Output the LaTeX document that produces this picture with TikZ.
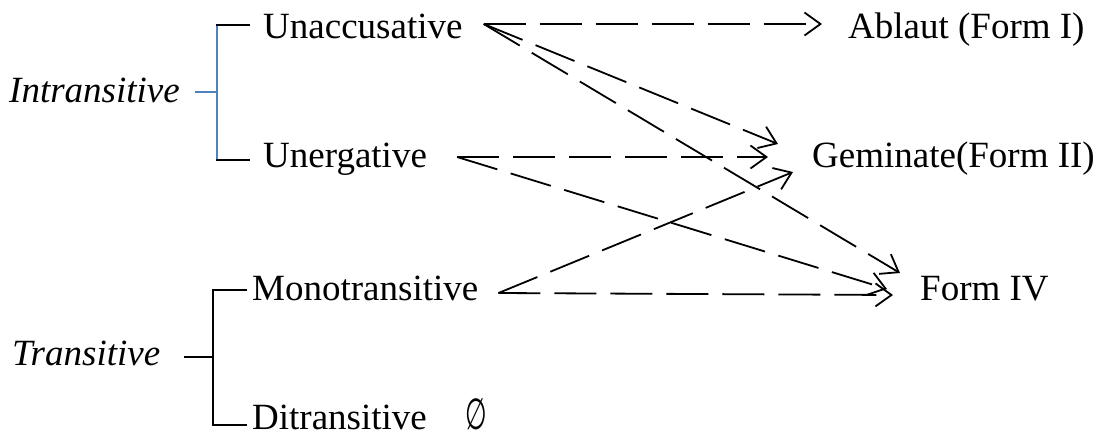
\documentclass[tikz,border=0pt]{standalone}
\usepackage{graphicx}
\usepackage{fontspec}
\setmainfont{Liberation Serif}
\newfontfamily\djv{DejaVu Sans}
\usetikzlibrary{arrows.meta,calc}
\definecolor{brblue}{RGB}{79,129,189}
\tikzset{
  lbl/.style={anchor=base west, inner sep=0pt, font=\fontsize{37}{44}\selectfont},
  ilbl/.style={lbl, font=\fontsize{37}{44}\selectfont\itshape},
  bracketblue/.style={draw=brblue, line width=2pt},
  bracketblack/.style={draw=black, line width=2pt},
  dasharrow/.style={draw=black, line width=1.8pt, dash pattern=on 42pt off 14pt,
    -{Straight Barb[length=16pt,width=23pt,line width=1.8pt]}}
}
\begin{document}
\begin{tikzpicture}[x=1pt,y=-1pt]
\useasboundingbox (0,0) rectangle (1102,437);
% nodes
\node[ilbl] (intr) at (9,102) {Intransitive};
\node[ilbl] (tr) at (12,365) {Transitive};
\node[lbl] (unacc) at (263,38) {Unaccusative};
\node[lbl] (unerg) at (263,167) {Unergative};
\node[lbl] (mono) at (252,300) {Monotransitive};
\node[lbl] (ditr) at (252,429) {Ditransitive};
\node[anchor=base west, inner sep=0pt] (empty) at (465,429) {\scalebox{0.8}[1.4]{\fontsize{31}{36}\selectfont\djv ∅}};
\node[lbl] (abl) at (848,38) {Ablaut (Form I)};
\node[lbl] (gem) at (812,167) {Geminate(Form II)};
\node[lbl] (f4) at (920,300) {Form IV};
% brackets
\coordinate (ij) at (217,92);
\coordinate (ijt) at (217,25);
\coordinate (ijb) at (217,160);
\draw[bracketblue] ($(intr.base east)+(15,-10)$) -- (ij);
\draw[bracketblue] (ijt) -- (ijb);
\draw[bracketblack] ([xshift=-1pt]ijt) -- ($(unacc.base west)+(-13,-13)$);
\draw[bracketblack] ([xshift=-1pt]ijb) -- ($(unerg.base west)+(-13,-7)$);
\coordinate (tj) at (213,357);
\coordinate (tjt) at (213,290);
\coordinate (tjb) at (213,425);
\draw[bracketblack] ($(tr.base east)+(24,-8)$) -- (tj);
\draw[bracketblack] ($(mono.base west)+(-5,-10)$) -- (tjt) -- (tjb) -- ($(ditr.base west)+(-5,-4)$);
% tails
\coordinate (uaT) at ($(unacc.base east)+(21,-14)$);
\coordinate (ueT) at ($(unerg.base east)+(30,-10)$);
\coordinate (moT) at ($(mono.base east)+(20,-7)$);
% arrows
\draw[dasharrow] (uaT) -- ($(abl.base west)+(-26,-14)$);
\draw[dasharrow] (uaT) -- ($(gem.base west)+(-34,-23)$);
\draw[dasharrow] (uaT) -- ($(f4.base west)+(-20,-27)$);
\draw[dasharrow] (ueT) -- ($(gem.base west)+(-44,-10)$);
\draw[dasharrow] (ueT) -- ($(f4.base west)+(-33,-11)$);
\draw[dasharrow] (moT) -- ($(gem.base west)+(-19,5)$);
\draw[dasharrow] (moT) -- ($(f4.base west)+(-27,-5)$);
\end{tikzpicture}
\end{document}
